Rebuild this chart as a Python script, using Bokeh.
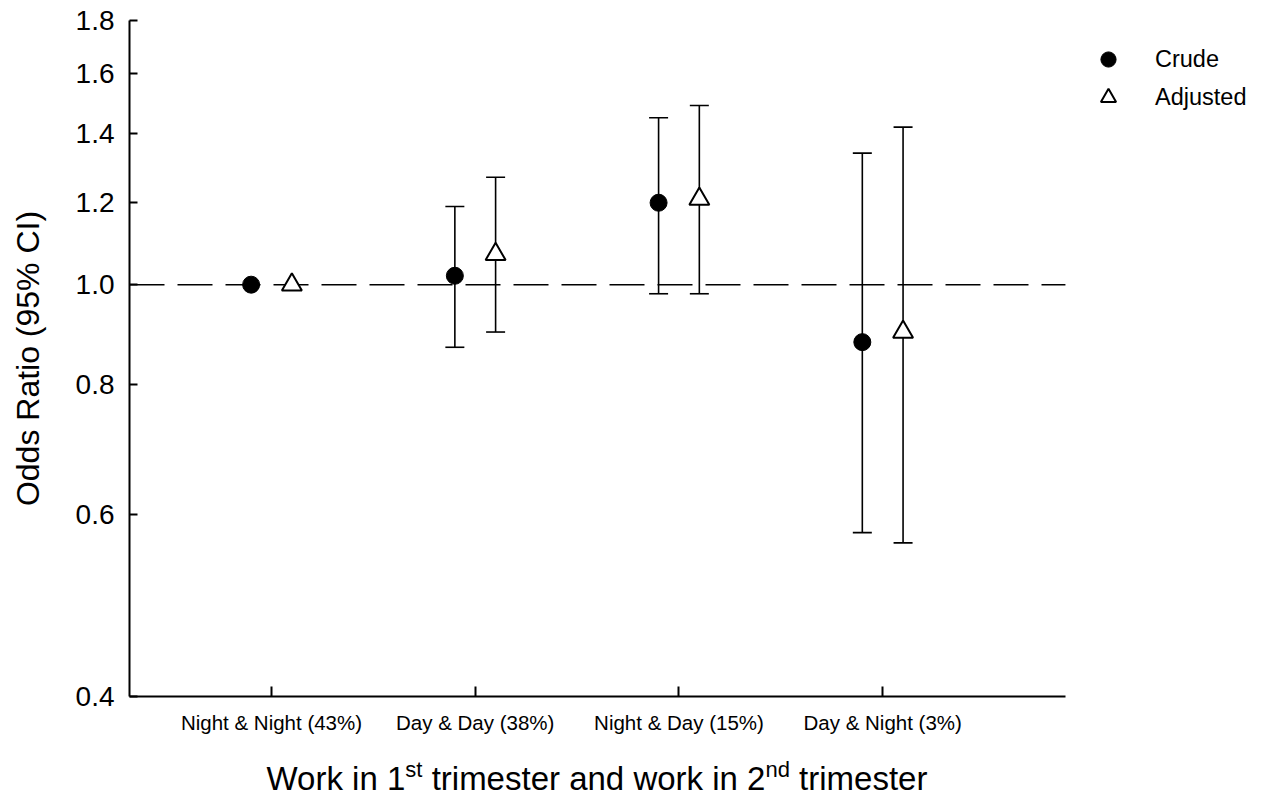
from bokeh.plotting import figure
from bokeh.layouts import column
from bokeh.models import (Range1d, FixedTicker, Whisker, TeeHead, ColumnDataSource,
                          Legend, LegendItem, Div)
from bokeh.embed import file_html
from bokeh.resources import INLINE

# ---------------- data ----------------
categories = ["Night & Night (43%)", "Day & Day (38%)", "Night & Day (15%)", "Day & Night (3%)"]
cat_pos = [1, 2, 3, 4]
crude_or = [1.00, 1.02, 1.20, 0.88]
crude_lo = [float("nan"), 0.87, 0.98, 0.576]
crude_hi = [float("nan"), 1.19, 1.45, 1.34]
adj_or = [1.00, 1.07, 1.21, 0.90]
adj_lo = [float("nan"), 0.90, 0.98, 0.563]
adj_hi = [float("nan"), 1.27, 1.49, 1.42]
y_ticks = [0.4, 0.6, 0.8, 1.0, 1.2, 1.4, 1.6, 1.8]
y_tick_labels = ["0.4", "0.6", "0.8", "1.0", "1.2", "1.4", "1.6", "1.8"]
series_names = ["Crude", "Adjusted"]
y_label = "Odds Ratio (95% CI)"
x_title_parts = ["Work in 1", "st", " trimester and work in 2", "nd", " trimester"]
reference_or = 1.0
dodge = 0.1
x_axis_start, x_axis_end, x_view_end = 0.303, 4.897, 5.879

FONT = "Liberation Sans"

crude_src = ColumnDataSource(dict(x=[c - dodge for c in cat_pos], y=crude_or, lo=crude_lo, hi=crude_hi))
adj_src = ColumnDataSource(dict(x=[c + dodge for c in cat_pos], y=adj_or, lo=adj_lo, hi=adj_hi))

W, H = 1271, 763
p = figure(width=W, height=H, y_axis_type="log",
           x_range=Range1d(x_axis_start, x_view_end), y_range=Range1d(0.4, 1.8),
           output_backend="svg", toolbar_location=None,
           min_border_left=129, min_border_right=6, min_border_top=20, min_border_bottom=H - 696)
p.outline_line_color = None
p.xgrid.visible = False
p.ygrid.visible = False
p.background_fill_color = "white"
p.border_fill_color = "white"

# axes
p.xaxis.ticker = FixedTicker(ticks=cat_pos)
p.xaxis.bounds = (x_axis_start, x_axis_end)
p.xaxis.major_label_overrides = {c: lab for c, lab in zip(cat_pos, categories)}
p.yaxis.ticker = FixedTicker(ticks=y_ticks)
p.yaxis.major_label_overrides = {t: lab for t, lab in zip(y_ticks, y_tick_labels)}
for ax in (p.xaxis, p.yaxis):
    ax.axis_line_width = 2
    ax.axis_line_color = "black"
    ax.major_tick_line_width = 2
    ax.major_tick_line_color = "black"
    ax.major_tick_in = 8
    ax.major_tick_out = 0
    ax.minor_tick_line_color = None
    ax.major_label_text_font = FONT
    ax.major_label_text_color = "black"
    ax.axis_label_text_font = FONT
    ax.axis_label_text_font_style = "normal"
    ax.axis_label_text_color = "black"
p.xaxis.major_tick_in = 10
p.xaxis.major_label_text_font_size = "20.5px"
p.xaxis.major_label_standoff = 14
p.yaxis.major_label_text_font_size = "28px"
p.yaxis.major_label_standoff = 15
p.yaxis.axis_label = y_label
p.yaxis.axis_label_text_font_size = "32px"
p.yaxis.axis_label_standoff = 27

# reference line (dashed) across the axis extent
p.segment(x0=[x_axis_start], x1=[x_axis_end], y0=[reference_or], y1=[reference_or],
          line_color="black", line_width=1.6, line_dash="35 13")

# error bars
for src in (crude_src, adj_src):
    p.add_layout(Whisker(source=src, base="x", upper="hi", lower="lo", dimension="height",
                         line_color="black", line_width=1.6,
                         upper_head=TeeHead(size=19, line_width=1.6, line_color="black"),
                         lower_head=TeeHead(size=19, line_width=1.6, line_color="black")))

r_crude = p.scatter("x", "y", source=crude_src, marker="circle", size=17,
                    fill_color="black", line_color="black", line_width=1)
r_adj = p.scatter("x", "y", source=adj_src, marker="triangle", size=20,
                  fill_color="white", line_color="black", line_width=2)

legend = Legend(items=[LegendItem(label=series_names[0], renderers=[r_crude]),
                       LegendItem(label=series_names[1], renderers=[r_adj])],
                location=(959, 580), margin=0, padding=0, spacing=0,
                glyph_width=40, glyph_height=38, label_standoff=27,
                label_text_font=FONT, label_text_font_size="23.5px", label_text_color="black",
                border_line_color=None, background_fill_alpha=0)
p.add_layout(legend, "center")

# x axis title with superscripts (below the figure)
html = ('<div style="font-family:\'Liberation Sans\',Arial,sans-serif;font-size:33px;'
        'line-height:32px;color:black;text-align:center;width:1194px;white-space:nowrap;">'
        f'{x_title_parts[0]}'
        f'<span style="font-size:22px;vertical-align:13px;line-height:0;">{x_title_parts[1]}</span>'
        f'{x_title_parts[2]}'
        f'<span style="font-size:22px;vertical-align:13px;line-height:0;">{x_title_parts[3]}</span>'
        f'{x_title_parts[4]}</div>')
title_div = Div(text=html, width=1194, height=795 - H, margin=0)

layout = column(p, title_div, spacing=0)
open("out.html", "w").write(file_html(layout, INLINE))
